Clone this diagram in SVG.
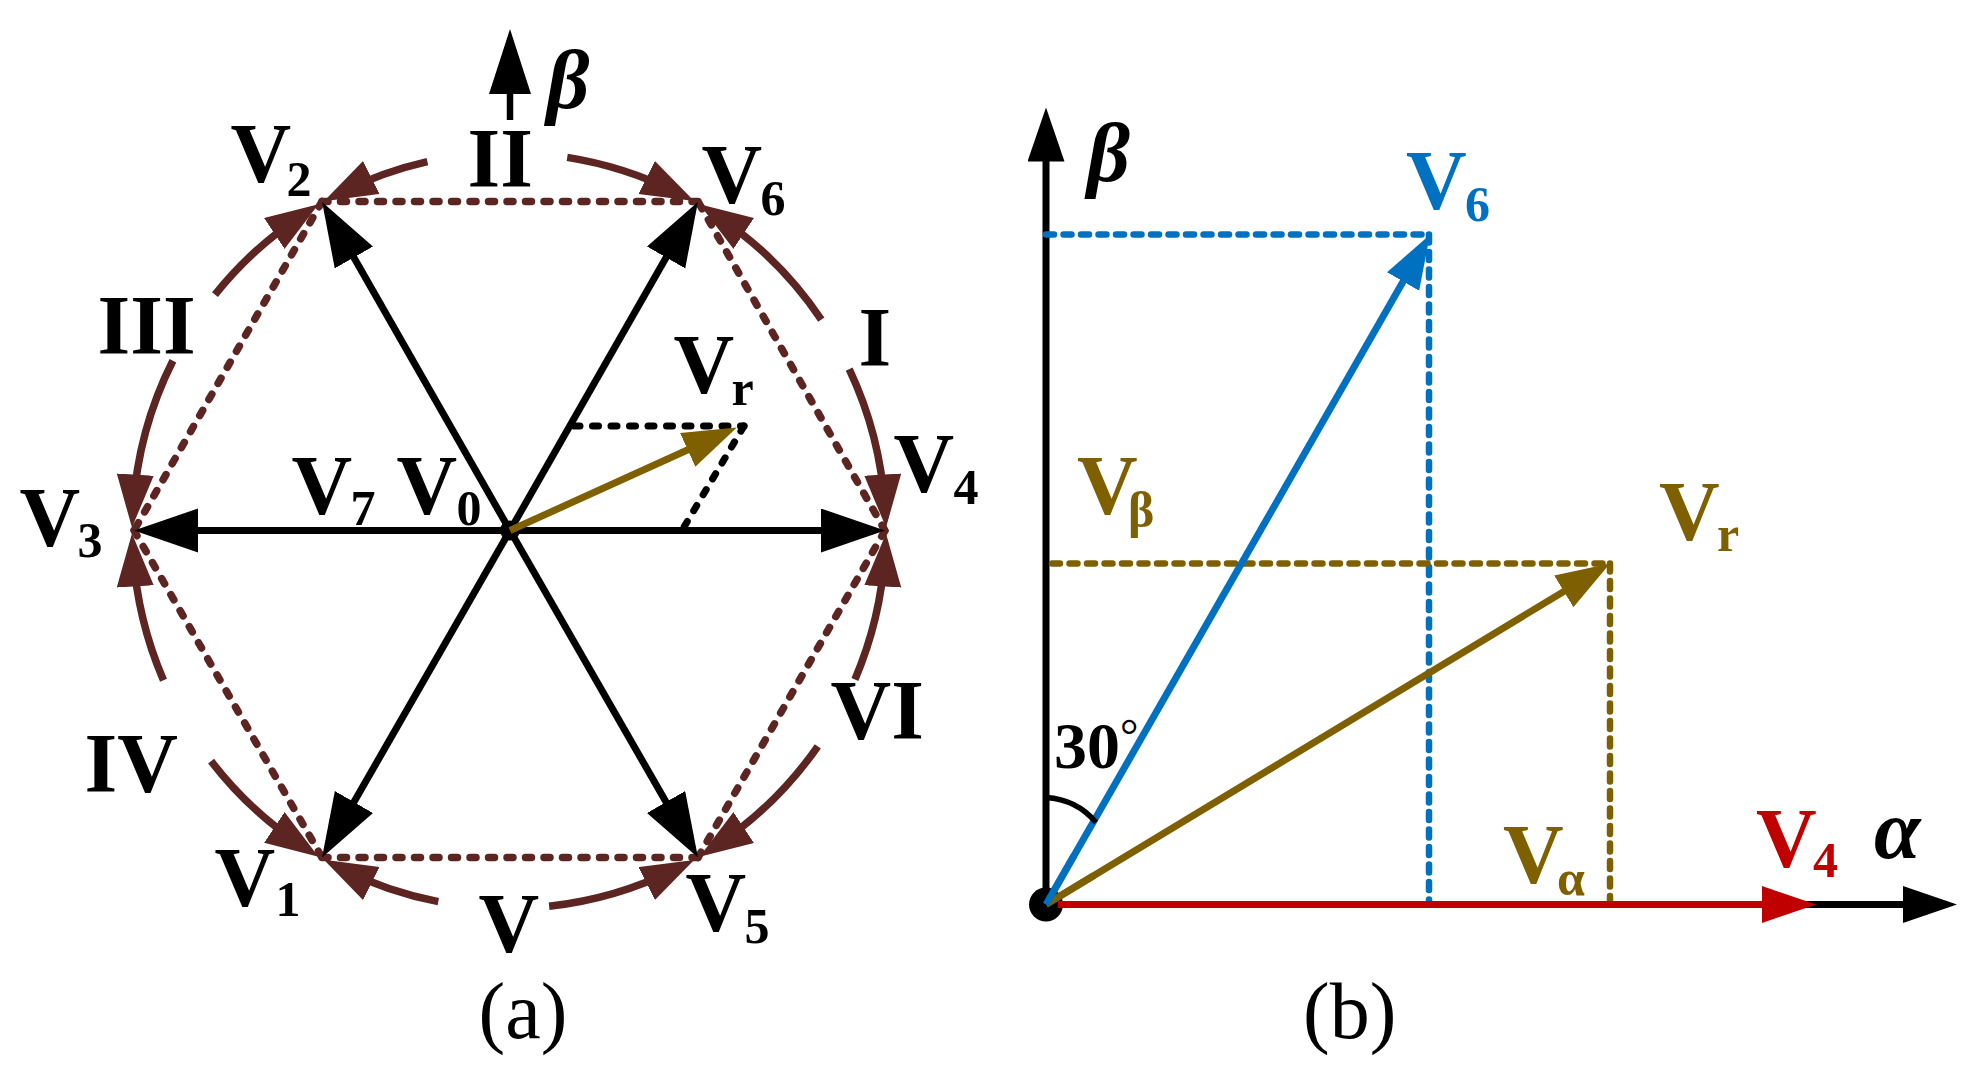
<svg xmlns="http://www.w3.org/2000/svg" width="1974" height="1081" viewBox="0 0 1974 1081">
<style>
text{font-family:"Liberation Serif","Times New Roman",serif;font-weight:bold;font-size:84px;fill:#000}
.s{font-size:50px}
.i{font-style:italic}
.n{font-weight:normal;font-size:80px}
.g,.g .s{fill:#7F6000}.b,.b .s{fill:#0070C0}.r,.r .s{fill:#C00000}
line,path{fill:none}
.sp{stroke:#000;stroke-width:7}
.arc{stroke:#5C2522;stroke-width:7.5;marker-end:url(#mbr)}
.hex{stroke:#5C2522;stroke-width:7.5;stroke-dasharray:6 12.5;stroke-linecap:round}
.bd{stroke-width:6.5;stroke-dasharray:8 9.5;stroke-linecap:round}
</style>
<defs>
<marker id="mk" markerUnits="userSpaceOnUse" markerWidth="66" markerHeight="46" refX="34" refY="22" orient="auto"><polygon points="0,0 64,22 0,44" fill="#000"/></marker>
<marker id="mbr" markerUnits="userSpaceOnUse" markerWidth="56" markerHeight="40" refX="33" refY="18.5" orient="auto"><polygon points="0,0 53,18.5 0,37" fill="#5C2522"/></marker>
<marker id="mgo" markerUnits="userSpaceOnUse" markerWidth="56" markerHeight="40" refX="30" refY="18.5" orient="auto"><polygon points="0,0 54,18.5 0,37" fill="#7F6000"/></marker>
<marker id="mbl" markerUnits="userSpaceOnUse" markerWidth="56" markerHeight="40" refX="30" refY="18.5" orient="auto"><polygon points="0,0 54,18.5 0,37" fill="#0070C0"/></marker>
<marker id="mre" markerUnits="userSpaceOnUse" markerWidth="56" markerHeight="40" refX="30" refY="18.5" orient="auto"><polygon points="0,0 54,18.5 0,37" fill="#C00000"/></marker>
<marker id="mbk" markerUnits="userSpaceOnUse" markerWidth="56" markerHeight="40" refX="30" refY="18.5" orient="auto"><polygon points="0,0 54,18.5 0,37" fill="#000"/></marker>
</defs>
<rect width="1974" height="1081" fill="#fff"/>
<g id="connectors-a">
<g id="hexagon">
<line class="hex" x1="698" y1="201.5" x2="322" y2="201.5"/>
<line class="hex" x1="322" y1="201.5" x2="134" y2="530.5"/>
<line class="hex" x1="134" y1="530.5" x2="322" y2="857.5"/>
<line class="hex" x1="322" y1="857.5" x2="698" y2="857.5"/>
<line class="hex" x1="698" y1="857.5" x2="885" y2="530.5"/>
<line class="hex" x1="885" y1="530.5" x2="698" y2="201.5"/>
</g>
<g id="arcs-right" transform="translate(-3.5 -2.5)">
<path class="arc" d="M824.8 322.1A378 378 0 0 0 719.7 217.8"/>
<path class="arc" d="M852.7 371.6A378 378 0 0 1 888.3 510"/>
<path class="arc" d="M570.7 159.9A378 378 0 0 1 679.7 194.7"/>
<path class="arc" d="M552.6 908.7A378 378 0 0 0 679.7 871.3"/>
<path class="arc" d="M858.4 681.9A378 378 0 0 0 888.3 556"/>
<path class="arc" d="M821.3 748.8A378 378 0 0 1 719.7 848.2"/>
</g>
<g id="arcs-left" transform="translate(-0.5 -2.5)">
<path class="arc" d="M427.9 164.1A378 378 0 0 0 342.3 194.7"/>
<path class="arc" d="M215.5 297.1A378 378 0 0 1 302.3 217.8"/>
<path class="arc" d="M173.4 363.3A378 378 0 0 0 133.7 510"/>
<path class="arc" d="M164 682.7A378 378 0 0 1 133.7 556"/>
<path class="arc" d="M211.6 763.6A378 378 0 0 0 302.3 848.2"/>
<path class="arc" d="M438.8 904.1A378 378 0 0 1 342.3 871.3"/>
</g>
<g id="spokes" marker-end="url(#mk)">
<line class="sp" x1="510" y1="530.5" x2="855" y2="530.5"/>
<line class="sp" x1="510" y1="530.5" x2="164" y2="530.5"/>
<line class="sp" x1="510" y1="530.5" x2="683" y2="228"/>
<line class="sp" x1="510" y1="530.5" x2="337" y2="228"/>
<line class="sp" x1="510" y1="530.5" x2="337" y2="831.5"/>
<line class="sp" x1="510" y1="530.5" x2="683" y2="831.5"/>
</g>
<circle cx="510" cy="530.5" r="10" fill="#000"/>
<line x1="574" y1="426" x2="744" y2="426" stroke="#000" stroke-width="7" stroke-dasharray="6 12.5" stroke-linecap="round"/>
<line x1="744" y1="426" x2="684" y2="527" stroke="#000" stroke-width="7" stroke-dasharray="6 12.5" stroke-linecap="round"/>
<line x1="510" y1="530.5" x2="715" y2="437.5" stroke="#7F6000" stroke-width="7" marker-end="url(#mgo)"/>
<line x1="510" y1="120" x2="510" y2="85" stroke="#000" stroke-width="6.5"/>
<polygon points="510,29 531,94 489,94" fill="#000"/>
</g>
<g id="labels-a" transform="translate(-1.5 -2)">
<g id="v2"><text x="232" y="184">V<tspan class="s" x="288" y="198">2</tspan></text></g>
<g id="v6"><text x="703" y="205">V<tspan class="s" x="762" y="217">6</tspan></text></g>
<g id="vr-a"><text x="675" y="395">V<tspan class="s" x="733" y="407">r</tspan></text></g>
<g id="v4"><text x="895" y="494">V<tspan class="s" x="955" y="506">4</tspan></text></g>
<g id="v7"><text x="293" y="516">V<tspan class="s" x="352" y="527">7</tspan></text></g>
<g id="v0"><text x="398" y="516">V<tspan class="s" x="458" y="527">0</tspan></text></g>
<g id="v3"><text x="21" y="548">V<tspan class="s" x="79" y="559">3</tspan></text></g>
<g id="v1"><text x="216" y="908">V<tspan class="s" x="277" y="918">1</tspan></text></g>
<g id="v5"><text x="687" y="933">V<tspan class="s" x="746" y="945">5</tspan></text></g>
<g id="sec-1"><text x="860" y="368">I</text></g>
<g id="sec-2"><text x="469" y="189">II</text></g>
<g id="sec-3"><text x="99" y="356">III</text></g>
<g id="sec-4"><text x="86" y="794">IV</text></g>
<g id="sec-5"><text x="480" y="954">V</text></g>
<g id="sec-6"><text x="832" y="741">VI</text></g>
<g id="beta-a"><text class="i" x="548" y="110">β</text></g>
<g id="cap-a"><text class="n" x="480" y="1040">(a)</text></g>
</g>
<g id="panel-b" transform="translate(-6 -2.5)">
<g id="connectors-b">
<line x1="1052" y1="907" x2="1052" y2="134" stroke="#000" stroke-width="7" marker-end="url(#mbk)"/>
<line x1="1052" y1="907" x2="1939" y2="907" stroke="#000" stroke-width="7" marker-end="url(#mbk)"/>
<line class="bd" x1="1052" y1="237" x2="1436" y2="237" stroke="#0070C0"/>
<line class="bd" x1="1435" y1="237" x2="1435" y2="907" stroke="#0070C0"/>
<line class="bd" x1="1058" y1="566" x2="1616" y2="566" stroke="#7F6000"/>
<line class="bd" x1="1616" y1="566" x2="1616" y2="907" stroke="#7F6000"/>
<line x1="1052" y1="907" x2="1798" y2="907" stroke="#C00000" stroke-width="7" marker-end="url(#mre)"/>
<line x1="1052" y1="907" x2="1424" y2="258" stroke="#0070C0" stroke-width="7" marker-end="url(#mbl)"/>
<line x1="1052" y1="907" x2="1595.5" y2="578.4" stroke="#7F6000" stroke-width="7" marker-end="url(#mgo)"/>
<path d="M1052 800Q1083 802 1102 825" stroke="#000" stroke-width="5.5"/>
<circle cx="1052" cy="907" r="17" fill="#000"/>
<line x1="1052" y1="907" x2="1100" y2="878" stroke="#7F6000" stroke-width="7"/>
<line x1="1052" y1="907" x2="1080" y2="858" stroke="#0070C0" stroke-width="7"/>
<line x1="1064" y1="907" x2="1100" y2="907" stroke="#C00000" stroke-width="7"/>
</g>
<g id="labels-b">
<g id="beta-b"><text class="i" x="1093" y="183">β</text></g>
<g id="v6-b"><text class="b" x="1412" y="211">V<tspan class="s" x="1471" y="223">6</tspan></text></g>
<g id="vb"><text class="g" x="1083" y="516">V<tspan class="s" x="1134" y="529">β</tspan></text></g>
<g id="vr-b"><text class="g" x="1665" y="542">V<tspan class="s" x="1723" y="553">r</tspan></text></g>
<g id="v4-b"><text class="r" x="1762" y="869">V<tspan class="s" x="1819" y="879">4</tspan></text></g>
<g id="alpha"><text class="i" x="1880" y="860">α</text></g>
<g id="va"><text class="g" x="1509" y="885">V<tspan class="s" x="1563" y="897">α</tspan></text></g>
<g id="angle"><text x="1060" y="770" style="font-size:66px">30<tspan style="font-size:46px;font-weight:normal" y="753">°</tspan></text></g>
<g id="cap-b"><text class="n" x="1309" y="1040">(b)</text></g>
</g>
</g>
</svg>
